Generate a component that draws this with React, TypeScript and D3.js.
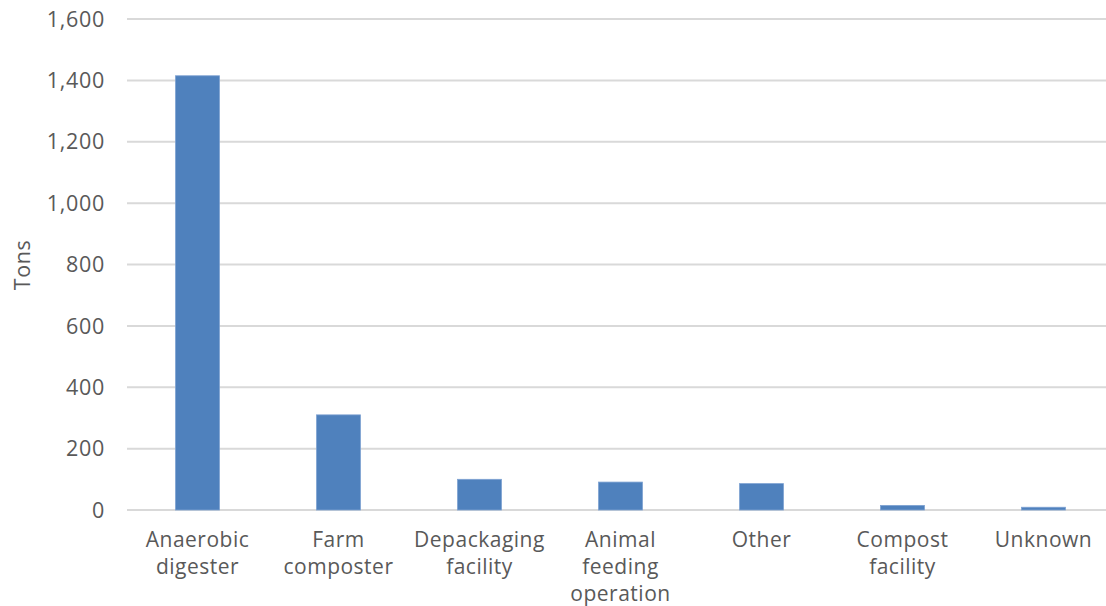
import React from "react";
import * as d3 from "d3";

const categories = [
  "Anaerobic digester",
  "Farm composter",
  "Depackaging facility",
  "Animal feeding operation",
  "Other",
  "Compost facility",
  "Unknown",
];
const categoryLines = [
  ["Anaerobic", "digester"],
  ["Farm", "composter"],
  ["Depackaging", "facility"],
  ["Animal", "feeding", "operation"],
  ["Other"],
  ["Compost", "facility"],
  ["Unknown"],
];
const values = [1415, 310, 100, 91, 86, 15, 9];
const yTicks = [0, 200, 400, 600, 800, 1000, 1200, 1400, 1600];
const yTitle = "Tons";

const W = 1106;
const H = 606;
const FONT = "'Open Sans', 'Liberation Sans', sans-serif";
const TEXT = "#595959";

export default function App() {
  const x = d3
    .scaleBand<string>()
    .domain(categories)
    .range([127, 1114])
    .paddingInner(0.688)
    .paddingOuter(0.344);
  const y = d3.scaleLinear().domain([0, 1600]).range([510, 19]);
  const fmt = d3.format(",");

  return (
    <svg
      width={W}
      height={H}
      style={{ position: "absolute", left: 0, top: 0, background: "#fff" }}
      fontFamily={FONT}
    >
      {yTicks.map((t) => (
        <g key={t}>
          <line x1={127} x2={W} y1={y(t)} y2={y(t)} stroke="#d9d9d9" strokeWidth={2} />
          <text
            x={105}
            y={y(t)}
            dy="0.36em"
            textAnchor="end"
            fontSize={21.5}
            fill={TEXT}
            letterSpacing={0.7}
          >
            {fmt(t)}
          </text>
        </g>
      ))}
      {categories.map((c, i) => (
        <rect
          key={c}
          x={x(c)!}
          y={y(values[i])}
          width={x.bandwidth()}
          height={y(0) - y(values[i])}
          fill="#4f81bd"
          stroke="#7ea2d2"
          strokeWidth={0.8}
        />
      ))}
      {categories.map((c, i) => (
        <text
          key={c}
          x={x(c)! + x.bandwidth() / 2}
          textAnchor="middle"
          fontSize={21}
          fill={TEXT}
          letterSpacing={0.5}
        >
          {categoryLines[i].map((ln, j) => (
            <tspan key={j} x={x(c)! + x.bandwidth() / 2} y={539 + j * 27} dy="0.36em">
              {ln}
            </tspan>
          ))}
        </text>
      ))}
      <text
        transform="translate(22,265) rotate(-90)"
        textAnchor="middle"
        dy="0.36em"
        fontSize={21.5}
        fill={TEXT}
        letterSpacing={0.6}
      >
        {yTitle}
      </text>
    </svg>
  );
}
